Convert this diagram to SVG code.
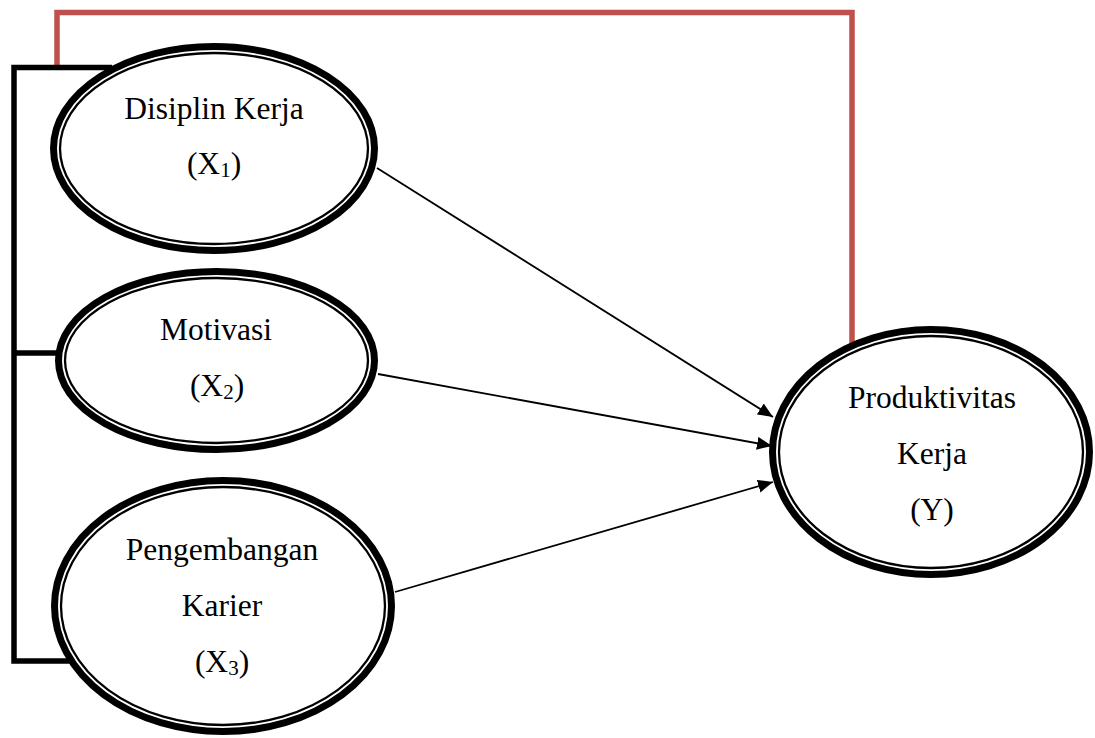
<svg xmlns="http://www.w3.org/2000/svg" width="1095" height="738" viewBox="0 0 1095 738">
<style>
.outer{fill:#fff;stroke:#000;stroke-width:7}
.inner{fill:none;stroke:#000;stroke-width:2.3}
.t{font-family:"Liberation Serif","Times New Roman",serif;font-size:31.5px;fill:#000;text-anchor:middle}
.sub{font-size:21px}
.arrow{stroke:#000;stroke-width:1.8;fill:none;marker-end:url(#ah)}
.brk{stroke:#000;stroke-width:5.5;fill:none}
.red{stroke:#C0504D;stroke-width:5.5;fill:none}
</style>
<defs>
<marker id="ah" markerUnits="userSpaceOnUse" markerWidth="16" markerHeight="14" refX="15" refY="6.5" orient="auto">
<path d="M0,0 L15,6.5 L0,13 z" fill="#000"/>
</marker>
</defs>
<rect width="1095" height="738" fill="#fff"/>
<g id="connectors">
<polyline class="red" points="57,66 57,12.5 852,12.5 852,345"/>
<polyline class="brk" points="112,67.5 14,67.5 14,661 70,661"/>
<line class="brk" x1="14" y1="353" x2="62" y2="353"/>
<line class="arrow" x1="377" y1="168" x2="773" y2="417"/>
<line class="arrow" x1="378" y1="374" x2="772" y2="446"/>
<line class="arrow" x1="395" y1="592" x2="773" y2="482"/>
</g>
<g id="x1">
<ellipse class="outer" cx="214" cy="148.5" rx="160.5" ry="102"/>
<ellipse class="inner" cx="214" cy="148.5" rx="154" ry="95.5"/>
<text class="t" x="214" y="119">Disiplin Kerja</text>
<text class="t" x="214" y="174">(X<tspan class="sub" dy="3">1</tspan><tspan dy="-3">)</tspan></text>
</g>
<g id="x2">
<ellipse class="outer" cx="216.5" cy="360.5" rx="158" ry="89"/>
<ellipse class="inner" cx="216.5" cy="360.5" rx="151.5" ry="82.5"/>
<text class="t" x="216" y="340">Motivasi</text>
<text class="t" x="217" y="396">(X<tspan class="sub" dy="3">2</tspan><tspan dy="-3">)</tspan></text>
</g>
<g id="x3">
<ellipse class="outer" cx="223" cy="606" rx="168.5" ry="125.5"/>
<ellipse class="inner" cx="223" cy="606" rx="162" ry="119"/>
<text class="t" x="222" y="560">Pengembangan</text>
<text class="t" x="222" y="616">Karier</text>
<text class="t" x="222" y="672">(X<tspan class="sub" dy="3">3</tspan><tspan dy="-3">)</tspan></text>
</g>
<g id="y">
<ellipse class="outer" cx="931" cy="452" rx="158.5" ry="122.5"/>
<ellipse class="inner" cx="931" cy="452" rx="152" ry="116"/>
<text class="t" x="932" y="408">Produktivitas</text>
<text class="t" x="932" y="464">Kerja</text>
<text class="t" x="932" y="520">(Y)</text>
</g>
</svg>
